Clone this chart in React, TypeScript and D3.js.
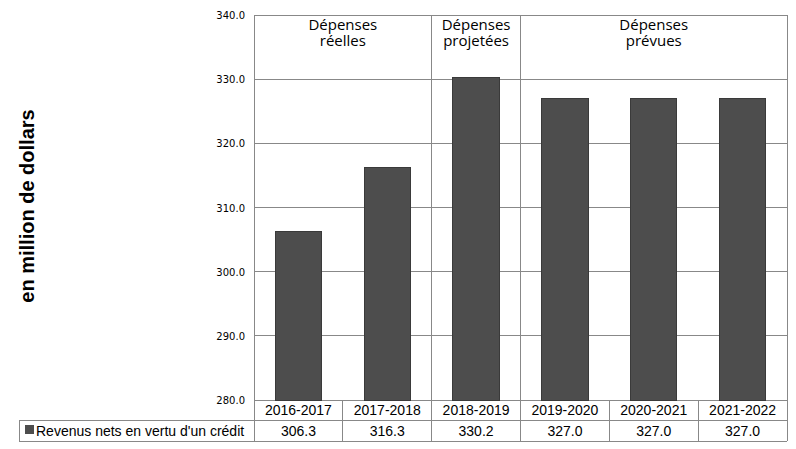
import React from "react";
import * as d3 from "d3";

const categories = ["2016-2017", "2017-2018", "2018-2019", "2019-2020", "2020-2021", "2021-2022"];
const values = [306.3, 316.3, 330.2, 327.0, 327.0, 327.0];
const seriesName = "Revenus nets en vertu d'un crédit";
const yTicks = [280, 290, 300, 310, 320, 330, 340];
const groups = [
  { lines: ["Dépenses", "réelles"], from: 0, to: 1 },
  { lines: ["Dépenses", "projetées"], from: 2, to: 2 },
  { lines: ["Dépenses", "prévues"], from: 3, to: 5 },
];

export default function App() {
  const W = 796, H = 449;
  const left = 254, right = 787, top = 15, bottom = 400;
  const row1 = 420, row2 = 441, tableLeft = 19;
  const x = d3.scaleBand().domain(categories).range([left, right]).paddingInner(0).paddingOuter(0);
  const y = d3.scaleLinear().domain([280, 340]).range([bottom, top]);
  const bw = x.bandwidth();
  const barW = bw * 0.52;
  const grid = "#888888";
  const fmt = d3.format(".1f");
  const bounds = categories.map((c) => x(c) as number).concat([right]);

  return (
    <svg width={W} height={H} style={{ position: "absolute", left: 0, top: 0 }}>
      <rect x={0} y={0} width={W} height={H} fill="#fff" />
      {yTicks.map((t) => (
        <line key={t} x1={left} x2={right} y1={y(t)} y2={y(t)} stroke={grid} strokeWidth={1} shapeRendering="crispEdges" />
      ))}
      {yTicks.map((t) => (
        <text key={"l" + t} x={245} y={y(t) + 4} textAnchor="end" fontFamily="'DejaVu Sans', sans-serif" fontSize={10} fill="#000">
          {fmt(t)}
        </text>
      ))}
      {categories.map((c, i) => (
        <rect
          key={c}
          x={(x(c) as number) + (bw - barW) / 2}
          y={y(values[i])}
          width={barW}
          height={bottom - y(values[i])}
          fill="#4d4d4d"
          stroke="#3a3a3a"
          strokeWidth={1}
          shapeRendering="crispEdges"
        />
      ))}
      <line x1={left} x2={left} y1={top} y2={row2} stroke={grid} shapeRendering="crispEdges" />
      <line x1={right} x2={right} y1={top} y2={row2} stroke={grid} shapeRendering="crispEdges" />
      {groups.slice(1).map((g) => (
        <line key={"g" + g.from} x1={bounds[g.from]} x2={bounds[g.from]} y1={top} y2={bottom} stroke={grid} shapeRendering="crispEdges" />
      ))}
      {groups.map((g) =>
        g.lines.map((l, k) => {
          const cx = (bounds[g.from] + bounds[g.to + 1]) / 2;
          return (
            <text key={"h" + g.from + "-" + k} x={cx} y={30 + k * 16} textAnchor="middle" fontFamily="'Open Sans', sans-serif" fontSize={15} fill="#000">
              {l}
            </text>
          );
        })
      )}
      <line x1={tableLeft} x2={right} y1={row1} y2={row1} stroke={grid} shapeRendering="crispEdges" />
      <line x1={tableLeft} x2={right} y1={row2} y2={row2} stroke={grid} shapeRendering="crispEdges" />
      <line x1={tableLeft} x2={tableLeft} y1={row1} y2={row2} stroke={grid} shapeRendering="crispEdges" />
      {bounds.slice(1, -1).map((b, i) => (
        <line key={"s" + i} x1={b} x2={b} y1={bottom} y2={row2} stroke={grid} shapeRendering="crispEdges" />
      ))}
      {categories.map((c, i) => (
        <g key={"t" + c}>
          <text x={(x(c) as number) + bw / 2} y={415} textAnchor="middle" fontFamily="'Liberation Sans', Arial, sans-serif" fontSize={14} fill="#000">{c}</text>
          <text x={(x(c) as number) + bw / 2} y={436} textAnchor="middle" fontFamily="'Liberation Sans', Arial, sans-serif" fontSize={14} fill="#000">{fmt(values[i])}</text>
        </g>
      ))}
      <rect x={25} y={425} width={9} height={9} fill="#4d4d4d" />
      <text x={36} y={436} fontFamily="'Liberation Sans', Arial, sans-serif" fontSize={14} fill="#000">{seriesName}</text>
      <text
        transform={`translate(34, 206) rotate(-90)`}
        textAnchor="middle"
        fontFamily="'Liberation Sans', Arial, sans-serif"
        fontWeight="bold"
        fontSize={20}
        fill="#000"
      >
        en million de dollars
      </text>
    </svg>
  );
}
